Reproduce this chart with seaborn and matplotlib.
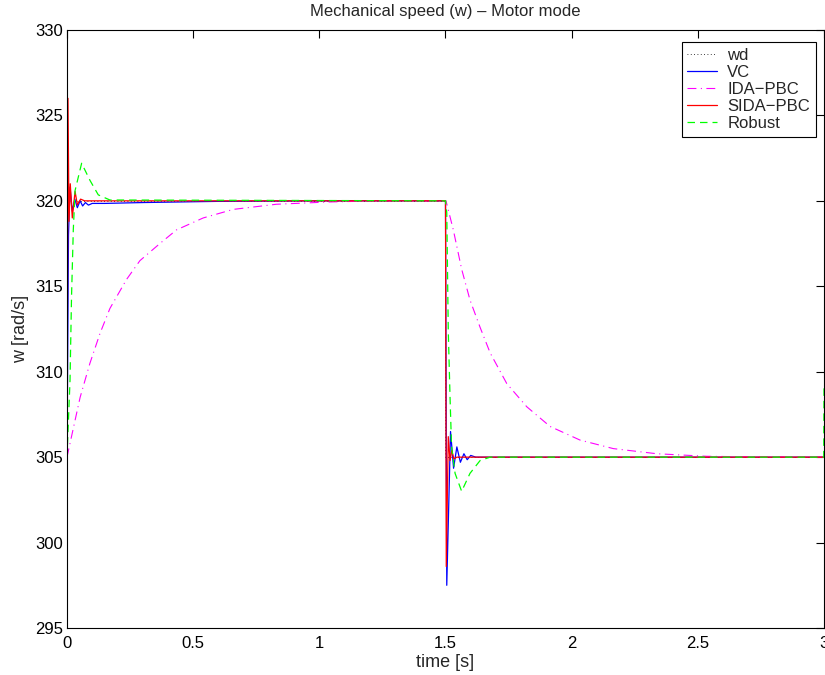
import matplotlib
matplotlib.use("Agg")
import matplotlib.pyplot as plt
import seaborn as sns
import pandas as pd

# ---- data ----
t_wd = [0.0, 1.5, 1.5, 3.0]
w_wd = [320, 320, 305, 305]

t_vc = [0.0, 0.006, 0.012, 0.021, 0.031, 0.041, 0.052, 0.062, 0.073, 0.085, 0.1, 0.15,
        0.3, 0.6, 1.0, 1.5, 1.505, 1.52, 1.532, 1.545, 1.559, 1.573, 1.586, 1.6, 1.62, 3.0]
w_vc = [305, 318.0, 320.8, 319.4, 320.1, 319.6, 320.0, 319.7, 319.9, 319.75, 319.85, 319.85,
        319.9, 319.97, 320, 320, 297.5, 306.5, 304.35, 305.6, 304.7, 305.2, 304.85, 305.1, 305.0, 305.0]

t_ida = [0.0, 0.052, 0.091, 0.131, 0.170, 0.236, 0.289, 0.368, 0.434, 0.54, 0.659, 0.83, 1.03,
         1.23, 1.5, 1.502, 1.531, 1.564, 1.597, 1.637, 1.677, 1.743, 1.822, 1.914, 2.033,
         2.165, 2.337, 2.535, 2.75, 3.0]
w_ida = [305.0, 308.5, 310.5, 312.25, 313.7, 315.4, 316.5, 317.5, 318.3, 319.0, 319.5, 319.8, 319.93,
         320.0, 320.0, 320.0, 318.3, 316.0, 314.2, 312.6, 311.1, 309.3, 307.95, 306.8, 306.0,
         305.5, 305.2, 305.05, 305.01, 305.0]

t_sida = [0.0, 0.004, 0.008, 0.013, 0.021, 0.032, 0.041, 0.054, 0.07, 1.5, 1.503, 1.511,
          1.518, 1.525, 1.533, 1.545, 3.0]
w_sida = [305, 326.0, 318.8, 321.0, 319.0, 320.55, 319.77, 320.1, 320.0, 320.0, 298.6, 306.2,
          304.8, 305.4, 304.9, 305.0, 305.0]

t_rob = [0.0, 0.012, 0.018, 0.025, 0.032, 0.058, 0.091, 0.124, 0.17, 1.5, 1.505, 1.511,
         1.518, 1.524, 1.538, 1.564, 1.597, 1.637, 1.677, 2.999, 3.0]
w_rob = [305.0, 309.5, 314.4, 318.3, 320.6, 322.2, 321.2, 320.35, 320.05, 320.0, 319.3, 312.4,
         308.5, 305.6, 304.05, 303.0, 304.05, 304.8, 305.0, 305.0, 309.1]

labels = ["wd", "VC", "IDA\u2212PBC", "SIDA\u2212PBC", "Robust"]
x_ticks = [0, 0.5, 1, 1.5, 2, 2.5, 3]
x_tick_labels = ["0", "0.5", "1", "1.5", "2", "2.5", "3"]
y_ticks = [295, 300, 305, 310, 315, 320, 325, 330]

# ---- styling ----
sns.set_style("white")
plt.rcParams["font.family"] = ["Liberation Sans", "DejaVu Sans"]
plt.rcParams["font.size"] = 12

fig = plt.figure(figsize=(8.25, 6.75), dpi=100)
ax = fig.add_axes([0.0812, 0.0696, 0.9176, 0.886])

series = [
    (t_wd, w_wd, labels[0], "black", (0, (1, 3)), 0.6),
    (t_vc, w_vc, labels[1], "#0000ff", "-", 0.9),
    (t_ida, w_ida, labels[2], "#ff00ff", (0, (8, 4, 1, 4)), 0.8),
    (t_sida, w_sida, labels[3], "#ff0000", "-", 0.9),
    (t_rob, w_rob, labels[4], "#00ff00", (0, (6, 4)), 0.9),
]
for t, w, lab, col, ls, lw in series:
    df = pd.DataFrame({"t": t, "w": w})
    sns.lineplot(data=df, x="t", y="w", ax=ax, sort=False, estimator=None,
                 color=col, linestyle=ls, linewidth=lw, label=lab)

ax.set_xlim(0, 3)
ax.set_ylim(295, 330)
ax.set_xticks(x_ticks)
ax.set_xticklabels(x_tick_labels)
ax.set_yticks(y_ticks)
ax.tick_params(direction="in", length=6, width=0.8, top=True, right=True,
               labelsize=12, colors="black", pad=3)
ax.tick_params(axis="x", pad=6)
for s in ax.spines.values():
    s.set_visible(True)
    s.set_color("black")
    s.set_linewidth(0.8)

ax.set_xlabel("time [s]", fontsize=13, labelpad=2)
ax.set_ylabel("w [rad/s]", fontsize=13, labelpad=4)
ax.set_title("Mechanical speed (w) \u2013 Motor mode", fontsize=12, pad=10)

leg = ax.legend(loc="upper right", bbox_to_anchor=(0.9894, 0.980), borderaxespad=0,
                frameon=True, fancybox=False, framealpha=1, edgecolor="black",
                fontsize=12, handlelength=1.8, borderpad=0.35, labelspacing=0.12,
                handletextpad=0.6)
leg.get_frame().set_linewidth(0.8)

fig.savefig("out.png", dpi=100)
